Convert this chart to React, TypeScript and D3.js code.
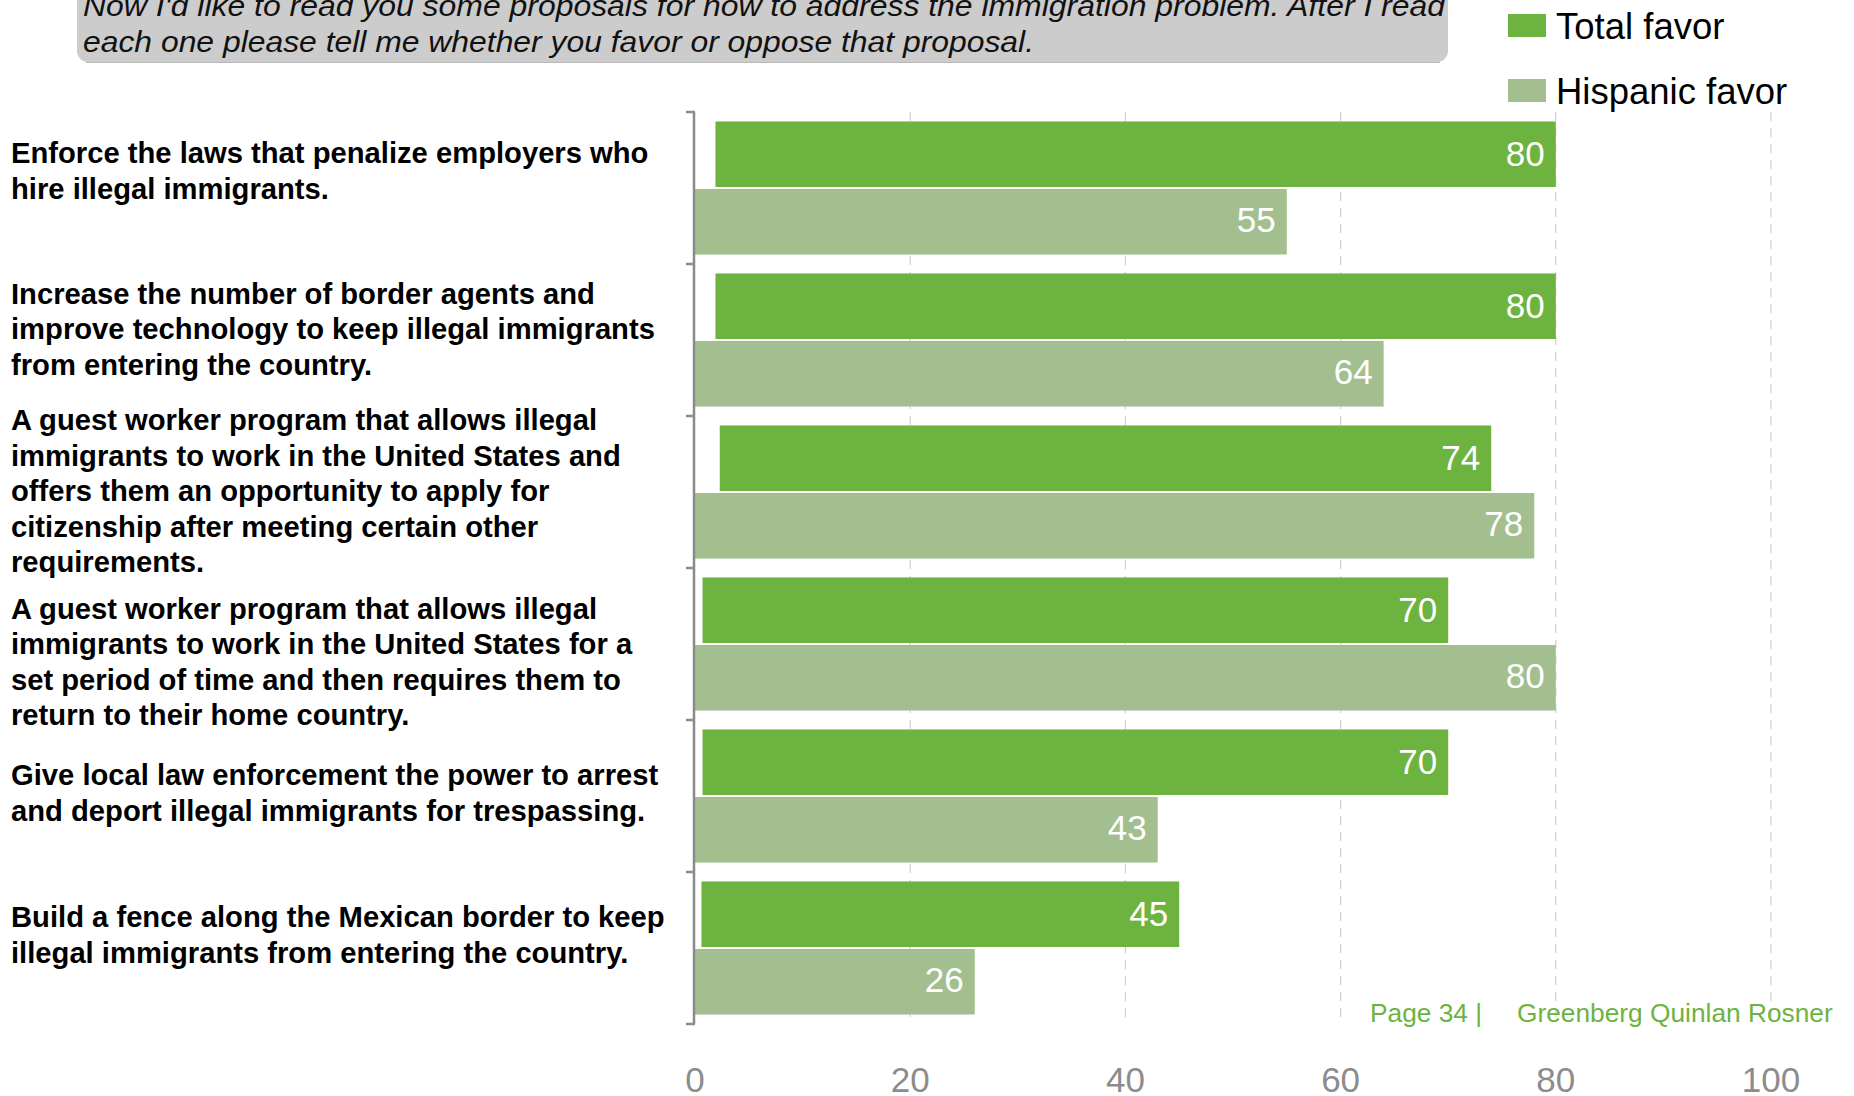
import React from "react";
import * as d3 from "d3";

const categories: string[][] = [
  ["Enforce the laws that penalize employers who", "hire illegal immigrants."],
  ["Increase the number of border agents and", "improve technology to keep illegal immigrants", "from entering the country."],
  ["A guest worker program that allows illegal", "immigrants to work in the United States and", "offers them an opportunity to apply for", "citizenship after meeting certain other", "requirements."],
  ["A guest worker program that allows illegal", "immigrants to work in the United States for a", "set period of time and then requires them to", "return to their home country."],
  ["Give local law enforcement the power to arrest", "and deport illegal immigrants for trespassing."],
  ["Build a fence along the Mexican border to keep", "illegal immigrants from entering the country."],
];
const totalFavor = [80, 80, 74, 70, 70, 45];
const totalFavorStart = [1.9, 1.9, 2.3, 0.7, 0.7, 0.6];
const hispanicFavor = [55, 64, 78, 80, 43, 26];
const seriesNames = ["Total favor", "Hispanic favor"];
const xTicks = [0, 20, 40, 60, 80, 100];
const titleLines = [
  "Now I'd like to read you some proposals for how to address the immigration problem. After I read",
  "each one please tell me whether you favor or oppose that proposal.",
];
const footerPage = "Page 34 |";
const footerFirm = "Greenberg Quinlan Rosner";

const GREEN = "#6db33f";
const LIGHT = "#a3bf8f";
const GRAY = "#8a8a8a";
const FONT = "'Liberation Sans', Arial, sans-serif";
// vertical nudges (px) of the left text blocks, as placed in the original slide
const LABEL_NUDGE = [-17, -11, -1, 18, -3, -13];

export default function App() {
  const W = 1854, H = 1096;
  const x = d3.scaleLinear().domain([0, 100]).range([695, 1771]);
  const idx = categories.map((_, i) => i);
  const y = d3.scaleBand<number>().domain(idx).range([112, 1024]).padding(0);
  const sub = d3.scaleBand<string>().domain(["t", "h"]).range([0, y.bandwidth()]).paddingOuter(0.14).paddingInner(0.03);
  const bw = y.bandwidth();
  const lineH = 35.5;

  return (
    <svg width={W} height={H} style={{ position: "absolute", left: 0, top: 0, background: "#fff" }} fontFamily={FONT}>
      {/* title box */}
      <rect x={77} y={-20} width={1371} height={82} rx={11} fill="#cccccc" />
      <line x1={86} x2={1440} y1={62.5} y2={62.5} stroke="#b8b8b8" strokeWidth={1} />
      {titleLines.map((t, i) => (
        <text key={i} x={83} y={16 + i * 36} fontSize={29} fontStyle="italic" fill="#111"
          textLength={i === 0 ? 1362 : 951} lengthAdjust="spacingAndGlyphs">{t}</text>
      ))}

      {/* legend */}
      {seriesNames.map((s, i) => (
        <g key={s}>
          <rect x={1508} y={14 + i * 65} width={38} height={23} fill={i === 0 ? GREEN : LIGHT} />
          <text x={1556} y={26 + i * 65} dy="0.35em" fontSize={36.5} fill="#000">{s}</text>
        </g>
      ))}

      {/* gridlines */}
      {xTicks.filter(t => t > 0).map(t => (
        <line key={t} x1={x(t)} x2={x(t)} y1={112} y2={1024} stroke="#cfcfcf" strokeWidth={1.2} strokeDasharray="9,7" />
      ))}

      {/* bars */}
      {idx.map(i => {
        const y0 = y(i)!;
        const ty = y0 + sub("t")!;
        const hy = y0 + sub("h")!;
        return (
          <g key={i}>
            <rect x={x(totalFavorStart[i])} y={ty} width={x(totalFavor[i]) - x(totalFavorStart[i])} height={sub.bandwidth()} fill={GREEN} />
            <text x={x(totalFavor[i]) - 11} y={ty + sub.bandwidth() / 2} dy="0.33em" textAnchor="end" fontSize={35} fill="#fff">{totalFavor[i]}</text>
            <rect x={x(0)} y={hy} width={x(hispanicFavor[i]) - x(0)} height={sub.bandwidth()} fill={LIGHT} />
            <text x={x(hispanicFavor[i]) - 11} y={hy + sub.bandwidth() / 2} dy="0.3em" textAnchor="end" fontSize={35} fill="#fff">{hispanicFavor[i]}</text>
          </g>
        );
      })}

      {/* axis */}
      <line x1={x(0) - 1} x2={x(0) - 1} y1={112} y2={1024} stroke={GRAY} strokeWidth={2.5} />
      {[...idx, idx.length].map(i => {
        const yy = i < idx.length ? y(i)! : 1024;
        return <line key={i} x1={x(0) - 9} x2={x(0)} y1={yy} y2={yy} stroke={GRAY} strokeWidth={2.5} />;
      })}

      {/* category labels */}
      {categories.map((lines, i) => {
        const cy = y(i)! + bw / 2 + LABEL_NUDGE[i];
        const top = cy - ((lines.length - 1) * lineH) / 2;
        return (
          <text key={i} fontSize={29.2} fontWeight="bold" fill="#000">
            {lines.map((l, j) => (
              <tspan key={j} x={11} y={top + j * lineH} dy="0.35em">{l}</tspan>
            ))}
          </text>
        );
      })}

      {/* x tick labels */}
      {xTicks.map(t => (
        <text key={t} x={x(t)} y={1080} dy="0.35em" textAnchor="middle" fontSize={35} fill="#8c8c8c">{t}</text>
      ))}

      {/* footer */}
      <text x={1370} y={1013} dy="0.35em" fontSize={26.3} fill={GREEN}>{footerPage}</text>
      <text x={1517} y={1013} dy="0.35em" fontSize={26.3} fill={GREEN}>{footerFirm}</text>
    </svg>
  );
}
